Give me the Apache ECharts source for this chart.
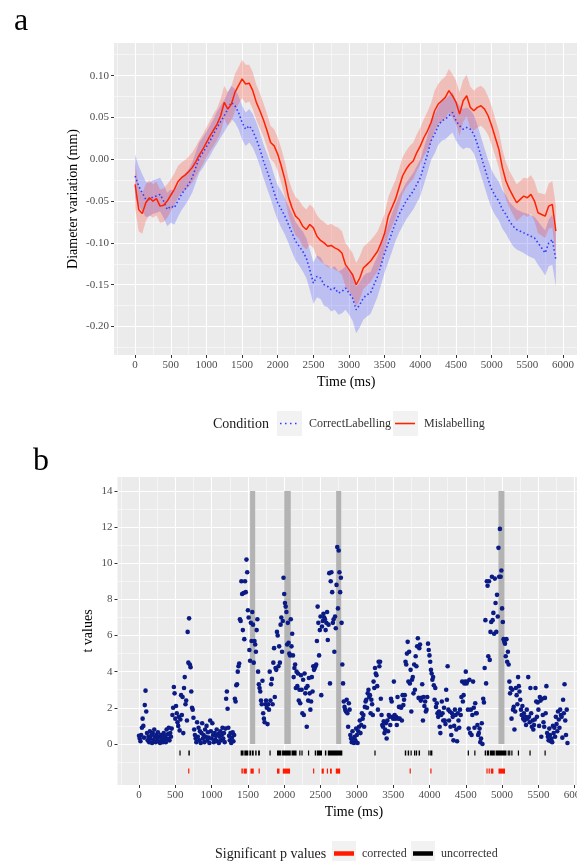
<!DOCTYPE html>
<html><head><meta charset="utf-8">
<script src="https://cdn.jsdelivr.net/npm/echarts@6/dist/echarts.min.js"></script>
<style>html,body{margin:0;padding:0;background:#fff}#c{width:577px;height:861px}</style>
</head><body><div id="c"></div>
<script>
const FONT = 'Liberation Serif';

// ---------- panel a : pupil diameter variation (every 50 ms) ----------
const TOP_STEP = 50;
const MISLABEL = [
 -0.030,-0.060,-0.065,-0.052,-0.046,-0.050,-0.047,-0.056,-0.055,-0.050,
 -0.043,-0.036,-0.027,-0.022,-0.019,-0.015,-0.010,-0.003,0.005,0.012,
 0.020,0.028,0.035,0.042,0.052,0.068,0.060,0.066,0.080,0.088,
 0.096,0.090,0.091,0.082,0.068,0.058,0.047,0.034,0.020,0.016,
 0.006,-0.008,-0.024,-0.045,-0.058,-0.068,-0.072,-0.080,-0.084,-0.078,
 -0.082,-0.092,-0.097,-0.100,-0.104,-0.103,-0.106,-0.108,-0.112,-0.126,
 -0.132,-0.138,-0.150,-0.142,-0.130,-0.126,-0.122,-0.116,-0.110,-0.100,
 -0.088,-0.068,-0.058,-0.048,-0.034,-0.020,-0.012,-0.006,-0.002,0.008,
 0.016,0.026,0.034,0.044,0.058,0.066,0.070,0.074,0.082,0.076,
 0.068,0.054,0.070,0.076,0.062,0.058,0.062,0.064,0.060,0.052,
 0.040,0.026,0.012,-0.010,-0.026,-0.036,-0.044,-0.052,-0.048,-0.044,
 -0.046,-0.042,-0.050,-0.064,-0.066,-0.068,-0.056,-0.054,-0.086
];
const MISLABEL_HW = [
 0.028,0.026,0.024,0.022,0.021,0.020,0.020,0.020,0.020,0.020,
 0.019,0.019,0.019,0.018,0.018,0.018,0.018,0.018,0.018,0.018,
 0.018,0.018,0.019,0.019,0.020,0.020,0.020,0.021,0.022,0.022,
 0.023,0.023,0.022,0.022,0.021,0.021,0.020,0.020,0.020,0.020,
 0.020,0.021,0.021,0.022,0.022,0.023,0.023,0.024,0.024,0.024,
 0.024,0.025,0.025,0.025,0.025,0.026,0.026,0.026,0.026,0.026,
 0.026,0.026,0.026,0.026,0.025,0.025,0.025,0.024,0.024,0.024,
 0.023,0.023,0.023,0.023,0.022,0.022,0.022,0.022,0.022,0.022,
 0.022,0.022,0.023,0.023,0.024,0.024,0.025,0.025,0.026,0.026,
 0.026,0.026,0.025,0.025,0.025,0.024,0.024,0.024,0.024,0.023,
 0.023,0.022,0.022,0.022,0.022,0.022,0.022,0.022,0.022,0.022,
 0.023,0.023,0.024,0.024,0.025,0.026,0.027,0.028,0.030
];
const CORRECT = [
 -0.020,-0.032,-0.040,-0.048,-0.048,-0.045,-0.044,-0.042,-0.050,-0.060,
 -0.056,-0.058,-0.050,-0.042,-0.036,-0.030,-0.022,-0.010,0.002,0.008,
 0.015,0.022,0.030,0.038,0.045,0.052,0.060,0.068,0.064,0.056,
 0.044,0.036,0.040,0.034,0.024,0.012,-0.002,-0.014,-0.026,-0.040,
 -0.052,-0.060,-0.068,-0.078,-0.088,-0.098,-0.104,-0.110,-0.118,-0.132,
 -0.148,-0.140,-0.142,-0.150,-0.152,-0.156,-0.154,-0.160,-0.158,-0.154,
 -0.160,-0.166,-0.180,-0.174,-0.166,-0.162,-0.160,-0.150,-0.140,-0.126,
 -0.112,-0.100,-0.088,-0.076,-0.066,-0.058,-0.050,-0.044,-0.038,-0.030,
 -0.022,-0.008,0.006,0.022,0.030,0.040,0.046,0.048,0.052,0.056,
 0.046,0.040,0.036,0.038,0.036,0.030,0.018,0.004,-0.010,-0.024,
 -0.036,-0.044,-0.050,-0.060,-0.066,-0.074,-0.080,-0.084,-0.086,-0.088,
 -0.090,-0.092,-0.094,-0.100,-0.106,-0.112,-0.100,-0.096,-0.120
];
const CORRECT_HW = [
 0.026,0.024,0.022,0.021,0.020,0.020,0.020,0.020,0.020,0.020,
 0.020,0.020,0.019,0.019,0.019,0.018,0.018,0.018,0.018,0.018,
 0.018,0.018,0.018,0.019,0.019,0.019,0.020,0.020,0.020,0.020,
 0.020,0.020,0.020,0.020,0.020,0.020,0.020,0.021,0.021,0.021,
 0.021,0.022,0.022,0.022,0.023,0.023,0.023,0.024,0.024,0.024,
 0.025,0.025,0.025,0.025,0.025,0.026,0.026,0.026,0.026,0.026,
 0.026,0.027,0.028,0.027,0.026,0.026,0.025,0.025,0.024,0.024,
 0.023,0.023,0.023,0.022,0.022,0.022,0.022,0.022,0.022,0.022,
 0.022,0.022,0.022,0.023,0.023,0.023,0.024,0.024,0.024,0.024,
 0.024,0.024,0.024,0.024,0.023,0.023,0.023,0.023,0.023,0.023,
 0.023,0.023,0.023,0.023,0.023,0.023,0.024,0.024,0.024,0.024,
 0.025,0.025,0.025,0.026,0.026,0.027,0.028,0.030,0.032
];
const X_TICKS = [0,500,1000,1500,2000,2500,3000,3500,4000,4500,5000,5500,6000];
const X_MINOR = [-250,250,750,1250,1750,2250,2750,3250,3750,4250,4750,5250,5750];
const TOP_Y_TICKS = [-0.20,-0.15,-0.10,-0.05,0,0.05,0.10];
const TOP_Y_MINOR = [-0.225,-0.175,-0.125,-0.075,-0.025,0.025,0.075,0.125];

// ---------- panel b : t values (every 10 ms) ----------
const T_STEP = 10;
const T_VALUES = [
 0.45,0.3,0.15,0.5,0.9,1.4,1.0,0.35,2.15,2.95,
 1.8,0.6,0.2,0.4,0.1,0.7,0.3,0.5,0.05,0.6,
 0.2,0.8,0.4,0.1,0.5,0.3,0.65,0.15,0.4,0.05,
 0.5,0.2,0.35,0.1,0.6,0.25,0.45,0.1,0.8,0.3,
 0.55,0.9,0.2,0.6,0.4,0.85,1.6,2.0,3.15,2.8,
 1.4,2.1,1.7,1.2,1.0,1.5,0.75,1.35,2.7,1.6,
 2.6,0.6,3.1,3.7,2.2,2.4,1.3,6.2,4.5,6.95,
 4.4,4.25,2.9,2.0,1.9,1.45,0.8,0.5,0.3,0.1,
 1.2,0.4,0.9,0.2,0.7,0.05,0.6,1.15,0.3,0.5,
 0.1,0.8,0.4,1.0,0.2,0.65,0.35,0.05,1.3,0.7,
 0.3,1.15,0.5,0.1,0.6,0.25,0.45,0.8,0.15,0.55,
 0.05,0.4,0.7,0.2,0.5,0.9,0.3,0.6,0.1,0.85,
 2.5,2.9,1.95,0.9,0.45,0.2,0.6,0.05,0.35,0.65,
 0.15,0.5,2.5,2.35,3.25,3.3,4.0,4.3,4.45,6.9,
 6.8,9.0,8.3,6.3,8.35,5.8,9.0,8.4,10.2,9.5,
 7.4,7.0,5.2,4.6,6.7,5.7,7.3,6.6,4.5,5.7,
 5.5,5.1,6.3,6.9,4.0,3.3,3.1,2.9,2.4,2.2,
 3.5,1.7,1.4,1.2,2.2,2.4,2.0,1.1,2.2,1.9,
 4.0,2.4,3.3,3.6,2.2,4.5,5.3,2.6,4.2,4.1,
 6.2,6.0,4.3,5.4,4.5,6.6,7.0,5.1,6.8,9.2,
 8.3,7.8,7.6,7.3,5.5,6.7,5.6,5.0,4.9,6.9,
 5.4,6.1,4.9,3.7,4.2,4.4,3.1,4.0,3.2,3.9,
 2.4,3.0,2.25,3.8,3.0,1.7,3.55,1.6,3.9,2.8,
 3.1,0.95,3.2,2.4,3.65,2.8,1.9,2.35,3.7,2.9,
 4.3,4.1,4.2,4.3,4.4,5.7,7.6,6.7,4.9,6.3,
 7.05,2.7,6.5,6.8,7.2,7.0,6.9,6.3,6.7,7.3,
 5.75,6.6,9.45,3.35,9.0,9.5,8.4,6.7,6.9,5.1,
 7.05,6.4,8.8,10.9,7.5,10.7,9.5,8.4,9.2,6.7,
 4.4,3.35,2.35,2.05,1.9,1.8,2.45,1.7,0.95,2.25,
 1.9,0.5,0.3,0.1,0.7,0.3,0.05,0.4,0.2,0.85,
 0.5,0.05,0.7,0.95,1.3,0.6,1.05,1.7,1.4,1.6,
 0.95,2.05,2.35,2.45,2.0,2.8,3.0,2.6,2.7,1.7,
 2.45,2.2,1.6,3.45,3.1,4.2,3.9,3.8,3.2,1.9,
 4.55,4.3,4.55,2.5,1.6,1.05,0.95,1.25,0.6,0.8,
 1.15,0.3,1.3,0.7,1.6,1.5,1.05,2.5,2.35,1.5,
 1.4,3.45,1.6,1.4,1.5,1.05,2.6,1.4,2.05,1.4,
 2.05,2.0,1.3,2.7,2.15,2.45,2.7,4.55,4.4,5.0,
 5.65,3.45,5.1,3.35,4.1,1.8,3.55,3.7,2.8,4.4,
 3.0,4.85,4.3,5.4,5.85,2.55,5.3,5.5,2.4,2.55,
 3.3,1.3,2.6,2.1,2.35,1.8,1.9,2.6,5.55,5.2,
 4.9,4.55,4.1,3.9,3.55,3.7,3.25,2.45,3.1,2.05,
 2.25,1.7,1.5,1.8,0.95,0.6,1.6,2.35,1.7,1.3,
 2.0,1.3,1.1,3.0,2.45,4.3,1.9,1.3,1.8,0.95,
 0.5,1.7,1.5,0.2,1.0,1.9,1.6,0.8,0.15,1.7,
 1.3,0.9,1.9,1.6,2.6,3.45,2.35,2.7,3.35,3.45,
 4.0,3.35,3.45,1.9,0.85,3.55,0.6,1.9,0.5,1.6,
 3.45,2.0,0.9,2.25,1.7,1.7,1.05,0.5,0.6,0.85,
 0.1,0.3,1.15,0.0,2.5,2.3,4.2,6.85,3.35,9.0,
 8.75,4.85,9.0,4.65,6.2,6.75,9.25,6.85,7.25,6.1,
 9.15,7.8,6.2,8.25,7.05,10.85,9.25,11.9,9.25,9.6,
 7.5,6.75,5.8,5.65,5.55,4.85,5.8,4.55,5.1,4.4,
 3.45,2.8,3.1,1.4,3.0,1.9,2.05,0.8,1.8,3.1,
 2.7,2.2,3.7,3.2,2.9,2.45,1.9,1.6,2.1,1.4,
 1.7,1.3,1.5,1.05,1.9,1.4,3.7,1.5,1.2,3.1,
 1.7,0.95,1.3,0.8,1.05,1.35,3.1,2.35,1.5,2.3,
 1.9,1.0,2.6,2.4,0.4,2.5,1.6,1.2,0.95,2.55,
 1.7,3.2,0.6,0.4,0.2,0.85,0.5,0.15,0.3,0.1,
 1.0,0.6,0.9,0.4,1.5,1.1,0.7,1.8,1.35,0.9,
 1.9,1.6,1.5,0.35,2.45,1.7,3.3,1.3,0.5,1.9,
 0.05
];
// significant windows (ms): grey bars spanning t = 0..14
const SIG_BARS = [[1530,1600],[2000,2090],[2715,2785],[4950,5032]];
const BAR_BOTTOM = 0, BAR_TOP = 14;
// significant samples (ms intervals)
const UNCORRECTED = [[560,570],[680,700],[1400,1440],[1450,1505],[1520,1545],[1555,1580],[1600,1620],[1640,1665],
 [1800,1810],[1900,1960],[1970,2090],[2100,2170],[2210,2220],[2240,2250],[2330,2340],[2420,2440],[2450,2520],
 [2560,2580],[2600,2800],[3245,3255],[3660,3680],[3700,3720],[3740,3755],[3790,3800],[3810,3830],[3850,3870],
 [3985,4000],[4010,4040],[4530,4540],[4620,4630],[4760,4780],[4790,4820],[4830,4900],[4910,5060],[5080,5090],
 [5100,5110],[5130,5140],[5220,5230],[5380,5390],[5585,5600]];
const CORRECTED = [[680,690],[1410,1430],[1440,1485],[1535,1580],[1650,1660],[1900,1935],[1980,2080],[2400,2410],
 [2515,2545],[2590,2600],[2630,2655],[2710,2770],[3730,3740],[4015,4025],[4785,4800],[4815,4830],[4845,4880],[4950,5040]];
const UNCORR_ROW = -0.5, CORR_ROW = -1.5, RUG_HALF = 0.14;
const BOT_Y_TICKS = [0,2,4,6,8,10,12,14];
const BOT_Y_MINOR = [-1,1,3,5,7,9,11,13];

const chart = echarts.init(document.getElementById('c'), null, {renderer:'canvas'});

const labelStyle = {fontFamily:FONT, fontSize:11, color:'#4D4D4D'};
const nameStyle = {fontFamily:FONT, fontSize:14, color:'#000'};
const tickStyle = {color:'#333333', width:1};

function mainX(grid, gap, min, max){
  return {type:'value', gridIndex:grid, min, max, position:'bottom',
    axisLine:{show:false, onZero:false},
    axisTick:{show:true, length:3, lineStyle:tickStyle, customValues:X_TICKS},
    axisLabel:Object.assign({customValues:X_TICKS, margin:5, formatter:v=>String(v)}, labelStyle),
    splitLine:{show:true, lineStyle:{color:'#FFFFFF', width:1.1}},
    name:'Time (ms)', nameLocation:'middle', nameGap:gap, nameTextStyle:nameStyle, nameMoveOverlap:false};
}
function minorX(grid, min, max){
  return {type:'value', gridIndex:grid, min, max, position:'top',
    axisLine:{show:false, onZero:false}, axisTick:{show:false, customValues:X_MINOR},
    axisLabel:{show:false, customValues:X_MINOR},
    splitLine:{show:true, lineStyle:{color:'#FFFFFF', width:0.5}}};
}
function mainY(grid, min, max, ticks, fmt, name, gap){
  return {type:'value', gridIndex:grid, min, max, position:'left',
    axisLine:{show:false, onZero:false},
    axisTick:{show:true, length:3, lineStyle:tickStyle, customValues:ticks},
    axisLabel:Object.assign({customValues:ticks, margin:5, formatter:fmt}, labelStyle),
    splitLine:{show:true, lineStyle:{color:'#FFFFFF', width:1.1}},
    name, nameLocation:'middle', nameGap:gap, nameTextStyle:nameStyle, nameMoveOverlap:false};
}
function minorY(grid, min, max, ticks){
  return {type:'value', gridIndex:grid, min, max, position:'right',
    axisLine:{show:false, onZero:false}, axisTick:{show:false, customValues:ticks},
    axisLabel:{show:false, customValues:ticks},
    splitLine:{show:true, lineStyle:{color:'#FFFFFF', width:0.5}}};
}

function ribbon(mean, hw, color){
  const data = mean.map((m,i)=>[i*TOP_STEP, m-hw[i], m+hw[i]]);
  return {type:'custom', xAxisIndex:0, yAxisIndex:0, clip:true, silent:true, z:1,
    data, encode:{x:0, y:[1,2]},
    renderItem:(params, api)=>{
      if (params.dataIndex !== 0) return null;
      const up=[], lo=[];
      for (let i=0;i<data.length;i++){
        up.push(api.coord([data[i][0], data[i][2]]));
        lo.push(api.coord([data[i][0], data[i][1]]));
      }
      return {type:'polygon', shape:{points:up.concat(lo.reverse())}, style:{fill:color}};
    }};
}
function rug(intervals, row, color){
  return {type:'custom', xAxisIndex:2, yAxisIndex:2, clip:true, silent:true, z:2,
    data: intervals.map(iv=>[iv[0], iv[1], row]), encode:{x:[0,1], y:2},
    renderItem:(params, api)=>{
      const a = api.coord([api.value(0), api.value(2)+RUG_HALF]);
      const b = api.coord([api.value(1), api.value(2)-RUG_HALF]);
      let w = b[0]-a[0], x = a[0];
      if (w < 1.2){ x = (a[0]+b[0])/2 - 0.6; w = 1.2; }
      return {type:'rect', shape:{x, y:a[1], width:w, height:b[1]-a[1]}, style:{fill:color}};
    }};
}

const TOP_MIN_X = -296, TOP_MAX_X = 6216;
const option = {
  animation:false,
  backgroundColor:'#FFFFFF',
  grid:[
    {left:114, top:43, width:464.4, height:312, show:true, backgroundColor:'#EBEBEB', borderWidth:0, outerBoundsMode:'none', containLabel:false},
    {left:117.5, top:477, width:472.9, height:308, show:true, backgroundColor:'#EBEBEB', borderWidth:0, outerBoundsMode:'none', containLabel:false}
  ],
  xAxis:[
    mainX(0, 20, TOP_MIN_X, TOP_MAX_X), minorX(0, TOP_MIN_X, TOP_MAX_X),
    mainX(1, 20, TOP_MIN_X, TOP_MAX_X), minorX(1, TOP_MIN_X, TOP_MAX_X)
  ],
  yAxis:[
    mainY(0, -0.234, 0.139, TOP_Y_TICKS, v=>v.toFixed(2), 'Diameter variation (mm)', 34),
    minorY(0, -0.234, 0.139, TOP_Y_MINOR),
    mainY(1, -2.27, 14.77, BOT_Y_TICKS, v=>String(v), 't values', 22),
    minorY(1, -2.27, 14.77, BOT_Y_MINOR)
  ],
  series:[
    ribbon(CORRECT, CORRECT_HW, 'rgba(70,80,255,0.28)'),
    ribbon(MISLABEL, MISLABEL_HW, 'rgba(255,45,25,0.24)'),
    {type:'line', xAxisIndex:0, yAxisIndex:0, showSymbol:false, silent:true, z:3,
      data: CORRECT.map((v,i)=>[i*TOP_STEP, v]),
      lineStyle:{color:'#2F3BFF', width:1.6, type:[1.5,2.5]}},
    {type:'line', xAxisIndex:0, yAxisIndex:0, showSymbol:false, silent:true, z:4,
      data: MISLABEL.map((v,i)=>[i*TOP_STEP, v]),
      lineStyle:{color:'#FF2200', width:1.5}},
    {type:'custom', xAxisIndex:2, yAxisIndex:2, clip:true, silent:true, z:1,
      data: SIG_BARS.map(b=>[b[0], b[1], BAR_BOTTOM, BAR_TOP]), encode:{x:[0,1], y:[2,3]},
      renderItem:(params, api)=>{
        const a = api.coord([api.value(0), api.value(3)]);
        const b = api.coord([api.value(1), api.value(2)]);
        return {type:'rect', shape:{x:a[0], y:a[1], width:b[0]-a[0], height:b[1]-a[1]}, style:{fill:'#B3B3B3'}};
      }},
    rug(UNCORRECTED, UNCORR_ROW, '#000000'),
    rug(CORRECTED, CORR_ROW, '#FF1A00'),
    {type:'scatter', xAxisIndex:2, yAxisIndex:2, silent:true, z:3, symbolSize:4.6,
      data: T_VALUES.map((v,i)=>[i*T_STEP, v]),
      itemStyle:{color:'#0B1B85', opacity:1}}
  ],
  graphic:[
    {type:'text', x:14, y:22, style:{text:'a', font:'32px "Liberation Serif"', fill:'#000', textVerticalAlign:'middle'}},
    {type:'text', x:33, y:462, style:{text:'b', font:'32px "Liberation Serif"', fill:'#000', textVerticalAlign:'middle'}},
    // legend a
    {type:'text', x:213, y:424, style:{text:'Condition', font:'14px "Liberation Serif"', fill:'#1A1A1A', textVerticalAlign:'middle'}},
    {type:'rect', shape:{x:277, y:411, width:25, height:25}, style:{fill:'#F2F2F2'}},
    {type:'line', shape:{x1:280, y1:423.5, x2:300, y2:423.5}, style:{stroke:'#2F3BFF', lineWidth:1.6, lineDash:[1.5,3.5]}},
    {type:'text', x:309, y:424, style:{text:'CorrectLabelling', font:'12px "Liberation Serif"', fill:'#333', textVerticalAlign:'middle'}},
    {type:'rect', shape:{x:393, y:411, width:25, height:25}, style:{fill:'#F2F2F2'}},
    {type:'line', shape:{x1:395, y1:423.5, x2:415, y2:423.5}, style:{stroke:'#FF2200', lineWidth:1.6}},
    {type:'text', x:424, y:424, style:{text:'Mislabelling', font:'12px "Liberation Serif"', fill:'#333', textVerticalAlign:'middle'}},
    // legend b
    {type:'text', x:215, y:854, style:{text:'Significant p values', font:'14px "Liberation Serif"', fill:'#1A1A1A', textVerticalAlign:'middle'}},
    {type:'rect', shape:{x:332, y:841, width:24, height:24}, style:{fill:'#F2F2F2'}},
    {type:'line', shape:{x1:334, y1:853.5, x2:354, y2:853.5}, style:{stroke:'#FF1A00', lineWidth:4.5}},
    {type:'text', x:362, y:854, style:{text:'corrected', font:'12px "Liberation Serif"', fill:'#333', textVerticalAlign:'middle'}},
    {type:'rect', shape:{x:411, y:841, width:24, height:24}, style:{fill:'#F2F2F2'}},
    {type:'line', shape:{x1:413, y1:853.5, x2:433, y2:853.5}, style:{stroke:'#000000', lineWidth:4.5}},
    {type:'text', x:441, y:854, style:{text:'uncorrected', font:'12px "Liberation Serif"', fill:'#333', textVerticalAlign:'middle'}}
  ]
};
chart.setOption(option);
</script>
</body></html>
